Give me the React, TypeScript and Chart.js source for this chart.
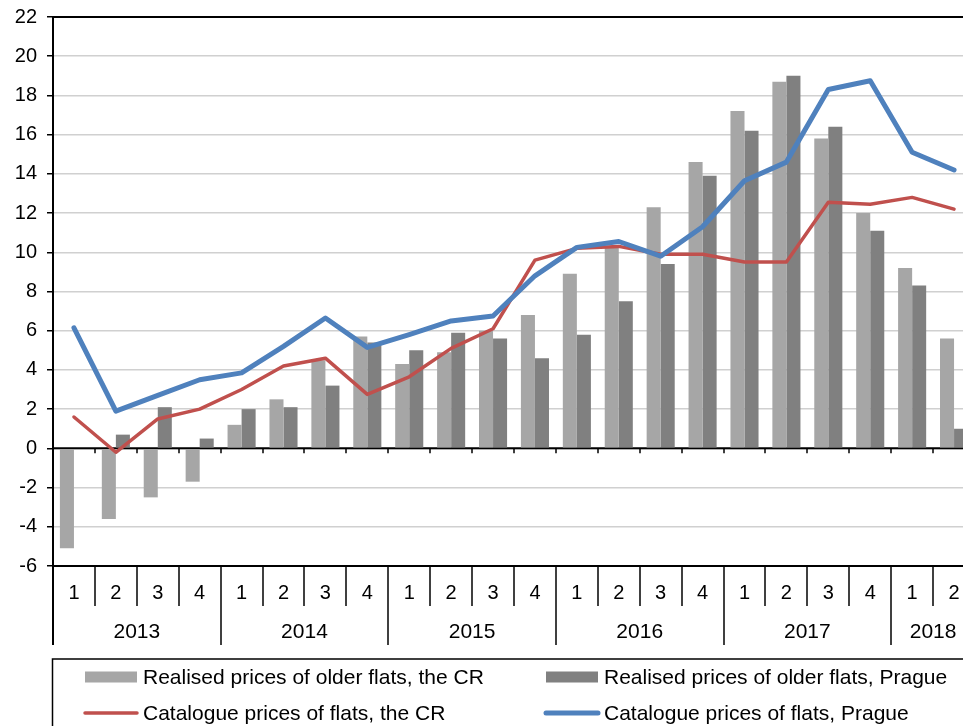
import React, { useEffect, useRef } from 'react';
import { Chart, registerables } from 'chart.js';

Chart.register(...registerables);

const quarters = ['1', '2', '3', '4', '1', '2', '3', '4', '1', '2', '3', '4', '1', '2', '3', '4', '1', '2', '3', '4', '1', '2'];
const years = ['2013', '2014', '2015', '2016', '2017', '2018'];
const yearSpans = [4, 4, 4, 4, 4, 2];

const realisedCR = [-5.1, -3.6, -2.5, -1.7, 1.2, 2.5, 4.5, 5.7, 4.3, 4.9, 6.0, 6.8, 8.9, 10.3, 12.3, 14.6, 17.2, 18.7, 15.8, 12.0, 9.2, 5.6];
const realisedPrague = [null, 0.7, 2.1, 0.5, 2.0, 2.1, 3.2, 5.4, 5.0, 5.9, 5.6, 4.6, 5.8, 7.5, 9.4, 13.9, 16.2, 19.0, 16.4, 11.1, 8.3, 1.0];
const catalogueCR = [1.6, -0.2, 1.5, 2.0, 3.0, 4.2, 4.6, 2.75, 3.65, 5.1, 6.1, 9.6, 10.2, 10.3, 9.9, 9.9, 9.5, 9.5, 12.55, 12.45, 12.8, 12.2];
const cataloguePrague = [6.15, 1.9, 2.7, 3.5, 3.85, 5.2, 6.65, 5.15, 5.8, 6.5, 6.75, 8.8, 10.25, 10.55, 9.8, 11.3, 13.65, 14.6, 18.3, 18.75, 15.1, 14.2];

const legendLabels = [
  'Realised prices of older flats, the CR',
  'Realised prices of older flats, Prague',
  'Catalogue prices of flats, the CR',
  'Catalogue prices of flats, Prague',
];

const FONT = '"Liberation Sans", Arial, sans-serif';
const LIGHT = '#A6A6A6';
const DARK = '#808080';
const RED = '#C0504D';
const BLUE = '#4F81BD';

const axisPlugin = {
  id: 'customAxis',
  beforeDatasetsDraw(chart: any) {
    const { ctx, chartArea, scales } = chart;
    const x = scales.x;
    const y = scales.y;
    const n = quarters.length;
    const cw = (chartArea.right - chartArea.left) / n;
    const y0 = y.getPixelForValue(0);
    ctx.save();
    ctx.strokeStyle = '#000';
    ctx.lineWidth = 2;
    ctx.beginPath();
    ctx.moveTo(chartArea.left, y0);
    ctx.lineTo(chartArea.right, y0);
    ctx.stroke();
    ctx.lineWidth = 1.5;
    for (let i = 0; i <= n; i++) {
      const bx = Math.round(x.getPixelForValue(0) - cw / 2 + i * cw);
      ctx.beginPath();
      ctx.moveTo(bx, y0);
      ctx.lineTo(bx, y0 + 5);
      ctx.stroke();
    }
    ctx.restore();
  },
  afterDraw(chart: any) {
    const { ctx, chartArea, scales } = chart;
    const x = scales.x;
    const n = quarters.length;
    const cw = (chartArea.right - chartArea.left) / n;
    const left = chartArea.left;
    const bottom = chartArea.bottom;
    ctx.save();
    ctx.strokeStyle = '#000';
    ctx.lineWidth = 2;
    ctx.beginPath();
    ctx.moveTo(left, chartArea.top);
    ctx.lineTo(chartArea.right + 20, chartArea.top);
    ctx.stroke();
    ctx.beginPath();
    ctx.moveTo(left, bottom);
    ctx.lineTo(chartArea.right + 20, bottom);
    ctx.stroke();
    ctx.beginPath();
    ctx.moveTo(left, chartArea.top);
    ctx.lineTo(left, bottom + 79);
    ctx.stroke();

    ctx.lineWidth = 1.5;
    const yearStarts: number[] = [];
    let acc = 0;
    yearSpans.forEach((s) => {
      yearStarts.push(acc);
      acc += s;
    });
    for (let i = 1; i <= n; i++) {
      const bx = Math.round(left + i * cw);
      const isYear = yearStarts.includes(i) || i === n;
      ctx.beginPath();
      ctx.moveTo(bx, bottom);
      ctx.lineTo(bx, bottom + (isYear ? 79 : 40));
      ctx.stroke();
    }

    ctx.fillStyle = '#000';
    ctx.font = `20px ${FONT}`;
    ctx.textAlign = 'center';
    ctx.textBaseline = 'middle';
    quarters.forEach((q, i) => {
      ctx.fillText(q, x.getPixelForValue(i), bottom + 27);
    });
    ctx.font = `21px ${FONT}`;
    years.forEach((yr, j) => {
      const s = yearStarts[j];
      const cx = left + (s + yearSpans[j] / 2) * cw;
      ctx.fillText(yr, cx, bottom + 66);
    });

    const boxTop = 659;
    ctx.lineWidth = 1.5;
    ctx.strokeRect(left - 0.5, boxTop, 1000, 200);
    ctx.textAlign = 'left';
    ctx.font = `21px ${FONT}`;
    const cols = [85, 546];
    const rows = [677, 713];
    const kinds = [
      { type: 'bar', color: LIGHT },
      { type: 'bar', color: DARK },
      { type: 'line', color: RED, w: 3.5 },
      { type: 'line', color: BLUE, w: 5 },
    ];
    kinds.forEach((k: any, idx) => {
      const cx = cols[idx % 2];
      const cy = rows[Math.floor(idx / 2)];
      if (k.type === 'bar') {
        ctx.fillStyle = k.color;
        ctx.fillRect(cx, cy - 5.5, 52, 11);
      } else {
        ctx.strokeStyle = k.color;
        ctx.lineWidth = k.w;
        ctx.lineCap = 'round';
        ctx.beginPath();
        ctx.moveTo(cx, cy);
        ctx.lineTo(cx + 52, cy);
        ctx.stroke();
      }
      ctx.fillStyle = '#000';
      ctx.fillText(legendLabels[idx], cx + 58, cy + 1);
    });
    ctx.restore();
  },
};

export default function App() {
  const ref = useRef<HTMLCanvasElement | null>(null);

  useEffect(() => {
    if (!ref.current) return;
    const chart = new Chart(ref.current, {
      type: 'bar',
      data: {
        labels: quarters.map((q, i) => `${q}-${i}`),
        datasets: [
          {
            type: 'line',
            label: legendLabels[3],
            data: cataloguePrague,
            borderColor: BLUE,
            borderWidth: 5,
            pointRadius: 0,
            tension: 0,
            borderCapStyle: 'round',
            borderJoinStyle: 'round',
            order: 1,
          } as any,
          {
            type: 'line',
            label: legendLabels[2],
            data: catalogueCR,
            borderColor: RED,
            borderWidth: 3.5,
            pointRadius: 0,
            tension: 0,
            borderCapStyle: 'round',
            borderJoinStyle: 'round',
            order: 2,
          } as any,
          {
            type: 'bar',
            label: legendLabels[0],
            data: realisedCR,
            backgroundColor: LIGHT,
            categoryPercentage: 0.67,
            barPercentage: 1,
            order: 3,
          } as any,
          {
            type: 'bar',
            label: legendLabels[1],
            data: realisedPrague,
            backgroundColor: DARK,
            categoryPercentage: 0.67,
            barPercentage: 1,
            order: 4,
          } as any,
        ],
      },
      options: {
        responsive: false,
        animation: false,
        layout: { padding: { top: 17, bottom: 160, left: 0, right: 0 } },
        plugins: {
          legend: { display: false },
          tooltip: { enabled: false },
        },
        scales: {
          x: {
            display: false,
            offset: true,
          },
          y: {
            min: -6,
            max: 22,
            ticks: {
              stepSize: 2,
              color: '#000',
              padding: 10,
              font: { family: FONT, size: 20 },
            },
            grid: {
              color: '#D0D0D0',
              lineWidth: 1.5,
              tickColor: '#000',
              tickLength: 6,
              tickWidth: 1.5,
            },
            border: { color: '#000', width: 2 },
            afterFit: (scale: any) => {
              scale.width = 53;
              scale.paddingTop = 0;
              scale.paddingBottom = 0;
            },
          },
        },
      },
      plugins: [axisPlugin],
    });
    return () => chart.destroy();
  }, []);

  return (
    <div
      style={{
        position: 'fixed',
        left: 0,
        top: 0,
        width: 963,
        height: 726,
        overflow: 'hidden',
        background: '#fff',
      }}
    >
      <canvas ref={ref} width={975} height={726} style={{ display: 'block' }} />
    </div>
  );
}
